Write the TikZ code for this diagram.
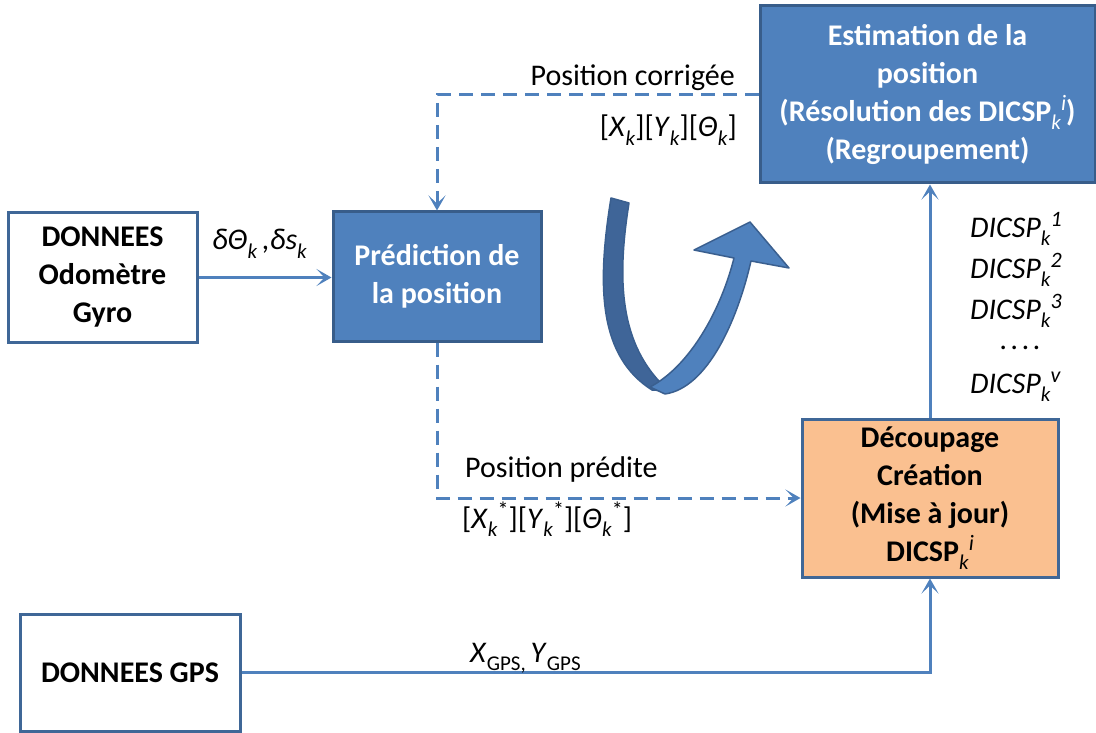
\documentclass[tikz,border=0pt]{standalone}
\usepackage{fontspec}
\setmainfont{Carlito}
\usetikzlibrary{arrows.meta}
\definecolor{boxblue}{HTML}{4F81BD}
\definecolor{boxedge}{HTML}{385D8A}
\definecolor{frameblue}{HTML}{3F6797}
\definecolor{linkblue}{HTML}{4F81BD}
\definecolor{paleorange}{HTML}{FAC090}
\definecolor{ribbondark}{HTML}{3F6598}
\definecolor{ribbonedge}{HTML}{3A5F8F}
% small raised / lowered indices in text mode
\newcommand{\lowix}[1]{\raisebox{-0.28em}{\fontsize{21}{21}\selectfont #1}}
\newcommand{\highix}[1]{\raisebox{0.36em}{\fontsize{22}{22}\selectfont #1}}
\tikzset{
  plainbox/.style={draw=frameblue, line width=3pt, fill=white, align=center,
    font=\fontsize{30}{38}\selectfont\bfseries, inner sep=0pt},
  bluebox/.style={draw=boxedge, line width=3pt, fill=boxblue, text=white, align=center,
    font=\fontsize{30}{38}\selectfont\bfseries, inner sep=0pt},
  orangebox/.style={draw=frameblue, line width=3pt, fill=paleorange, align=center,
    font=\fontsize{30}{38}\selectfont\bfseries, inner sep=0pt},
  link/.style={draw=linkblue, line width=3pt,
    -{Stealth[length=15pt, width=17pt, inset=8pt]}},
  dashlink/.style={link, dash pattern=on 14pt off 8pt},
  lbl/.style={font=\fontsize{30}{36}\selectfont, inner sep=0pt},
}
\begin{document}
\begin{tikzpicture}[x=1pt, y=-1pt]
\useasboundingbox (0,0) rectangle (1096,733);

% blocks
\node[plainbox, minimum width=189pt, minimum height=129pt] (odo) at (102.5,277.5)
  {DONNEES\\Odomètre\\Gyro};
\node[bluebox, minimum width=208pt, minimum height=129pt] (pred) at (437,276.5)
  {Prédiction de\\la position};
\node[bluebox, minimum width=335pt, minimum height=177pt] (est) at (927.5,94.5)
  {Estimation de la\\position\\(Résolution des DICSP\lowix{\textit{\mdseries k}}\highix{\textit{\mdseries i}})\\(Regroupement)};
\node[orangebox, minimum width=256pt, minimum height=158pt] (dec) at (930,498)
  {Découpage\\Création\\(Mise à jour)\\DICSP\lowix{\textit{\mdseries k}}\highix{\textit{\mdseries i}}};
\node[plainbox, minimum width=220pt, minimum height=117pt] (gps) at (130,672.5)
  {DONNEES GPS};

% connectors
\draw[link] (odo.east) -- (odo.east -| pred.west);
\draw[dashlink] (est.west) -| (pred.north);
\draw[dashlink] (pred.south) |- (dec.west);
\draw[link] (dec.north) -- (dec.north |- est.south);
\draw[link] (gps.east) -| (dec.south);

% connector labels
\node[lbl, anchor=base west] (lodo) at (212,250)
  {\textit{δΘ}\lowix{\textit{k}}\,\textit{,δs}\lowix{\textit{k}}};
\node[lbl, anchor=base east] (lcorr) at (735,86) {Position corrigée};
\node[lbl, anchor=base east] (lcorrv) at (737,137)
  {[\textit{X}\lowix{\textit{k}}][\textit{Y}\lowix{\textit{k}}][\textit{Θ}\lowix{\textit{k}}]};
\node[lbl, anchor=base west] (lpred) at (465,477) {Position prédite};
\node[lbl, anchor=base west] (lpredv) at (462,528)
  {[\textit{X}\lowix{\textit{k}}\highix{*}][\textit{Y}\lowix{\textit{k}}\highix{*}][\textit{Θ}\lowix{\textit{k}}\highix{*}]};
\node[lbl, anchor=base west] (lgps) at (470,662)
  {\textit{X}\lowix{GPS,}\,\textit{Y}\lowix{GPS}};

% list of sub-domains
\node[lbl, anchor=base west] (d1) at (970,237) {\textit{DICSP}\lowix{\textit{k}}\highix{\textit{1}}};
\node[lbl, anchor=base west] (d2) at (970,278) {\textit{DICSP}\lowix{\textit{k}}\highix{\textit{2}}};
\node[lbl, anchor=base west] (d3) at (970,319) {\textit{DICSP}\lowix{\textit{k}}\highix{\textit{3}}};
\node[font=\fontsize{30}{30}\selectfont, inner sep=0pt, anchor=base west] (dd) at (1000,349)
  {\textit{.\hspace{3.5pt}.\hspace{3.5pt}.\hspace{3.5pt}.}};
\node[lbl, anchor=base west] (dv) at (970,393) {\textit{DICSP}\lowix{\textit{k}}\highix{\textit{v}}};

% looping ribbon arrow
\draw[ribbonedge, line width=1.5pt, fill=ribbondark, line join=round]
  (611,198) .. controls (596,290) and (600,357) .. (652,390)
  -- (669,391) .. controls (623,350) and (615,290) .. (629,203) -- cycle;
\draw[ribbonedge, line width=1.5pt, fill=boxblue, line join=round]
  (650,387) .. controls (690,366) and (721,310) .. (734,258)
  -- (694,250) -- (750,222) -- (789,268) -- (751,261)
  .. controls (737,322) and (707,388) .. (665,394) -- cycle;
\end{tikzpicture}
\end{document}
